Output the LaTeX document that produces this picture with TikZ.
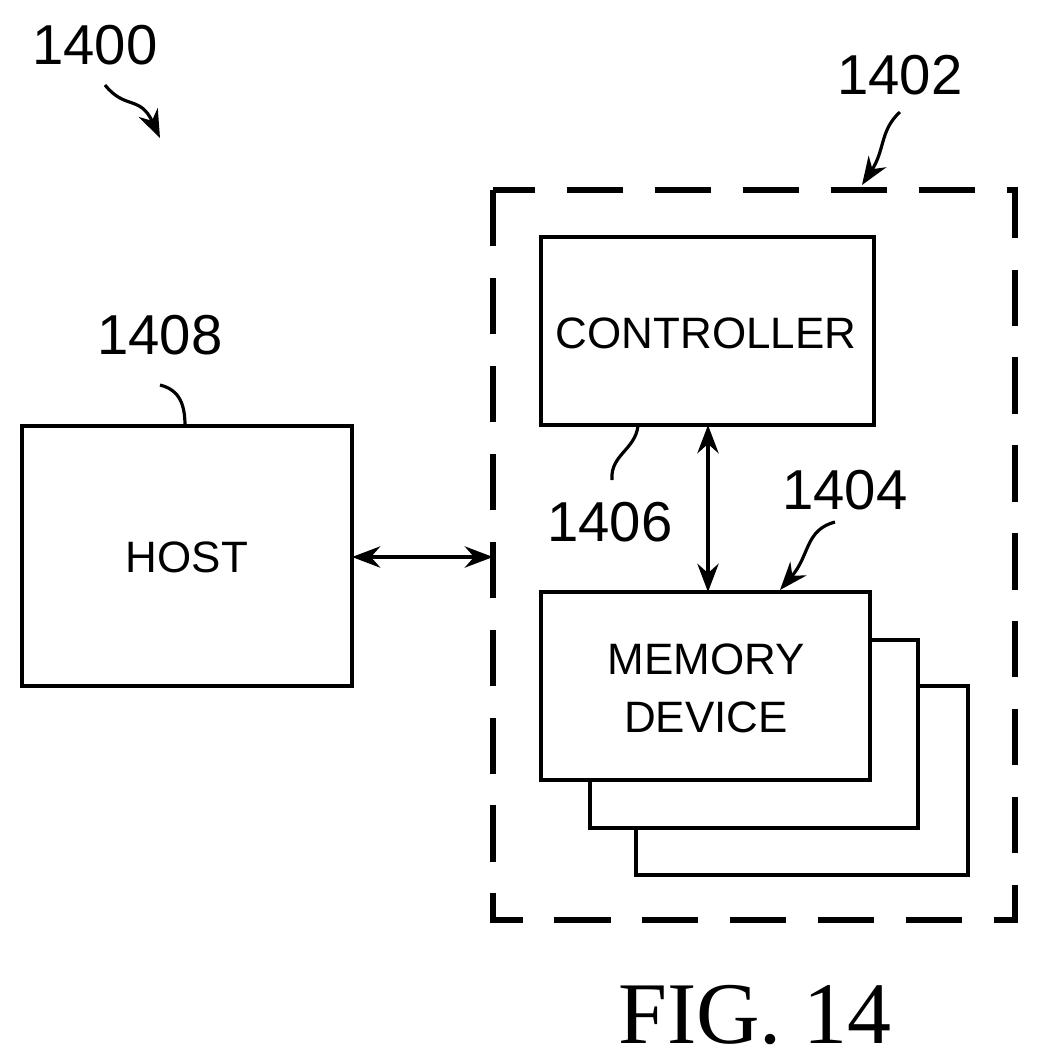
\documentclass[tikz,border=0pt]{standalone}
\usepackage{fontspec}
\setmainfont{Liberation Sans}
\newfontfamily\figfont{Liberation Serif}
\usetikzlibrary{arrows.meta}

\begin{document}
\begin{tikzpicture}[x=0.01cm,y=-0.01cm,line width=1.2pt,
  box/.style={draw, fill=white, line width=1.2pt},
  lbl/.style={font=\fontsize{16}{16}\selectfont},
  boxtext/.style={font=\fontsize{12.5}{16.5}\selectfont, align=center},
  dbl/.style={{Stealth[length=8pt,width=6pt]}-{Stealth[length=8pt,width=6pt]}},
  lead/.style={-{Stealth[length=8pt,width=6pt]}, line width=0.9pt}]

\useasboundingbox (0,0) rectangle (1038,1062);

\draw [dashed, dash pattern=on 16pt off 9pt, line width=1.5pt] (493,190) rectangle (1015,920);

\draw [box] (636,686) rectangle (968,875);
\draw [box] (590,640) rectangle (918,828);
\draw [box] (541,592) rectangle (870,780);
\node [boxtext] (memory) at (706,688) {MEMORY\\DEVICE};

\draw [box] (541,237) rectangle (874,425);
\node [boxtext] (controller) at (706,333) {CONTROLLER};

\draw [box] (22,426) rectangle (352,686);
\node [boxtext] (host) at (187,557) {HOST};

\coordinate (hostE) at (352,557);
\coordinate (sysW) at (493,557);
\coordinate (ctrlS) at (708,425);
\coordinate (memN) at (708,592);
\draw [dbl] (hostE) -- (sysW);
\draw [dbl] (ctrlS) -- (memN);

% reference numerals
\node [lbl] (n1400) at (95,45) {1400};
\node [lbl] (n1402) at (900,75) {1402};
\node [lbl] (n1408) at (160,335) {1408};
\node [lbl] (n1406) at (610,522) {1406};
\node [lbl] (n1404) at (845,490) {1404};

\coordinate (a1400) at (160,138);
\coordinate (a1402) at (862,185);
\coordinate (a1404) at (780,590);
\coordinate (a1408) at (185,426);
\coordinate (a1406) at (638,426);

\draw [lead] (105,85) .. controls (125,110) and (140,95) .. (a1400);
\draw [lead] (900,112) .. controls (880,130) and (885,150) .. (a1402);
\draw [lead] (835,522) .. controls (805,530) and (810,555) .. (a1404);
\draw [line width=0.9pt] (160,385) .. controls (180,390) and (185,405) .. (a1408);
\draw [line width=0.9pt] (612,480) .. controls (610,455) and (635,450) .. (a1406);

\node [font=\figfont\fontsize{25}{25}\selectfont] (fig) at (755,1015) {FIG. 14};

\end{tikzpicture}
\end{document}
